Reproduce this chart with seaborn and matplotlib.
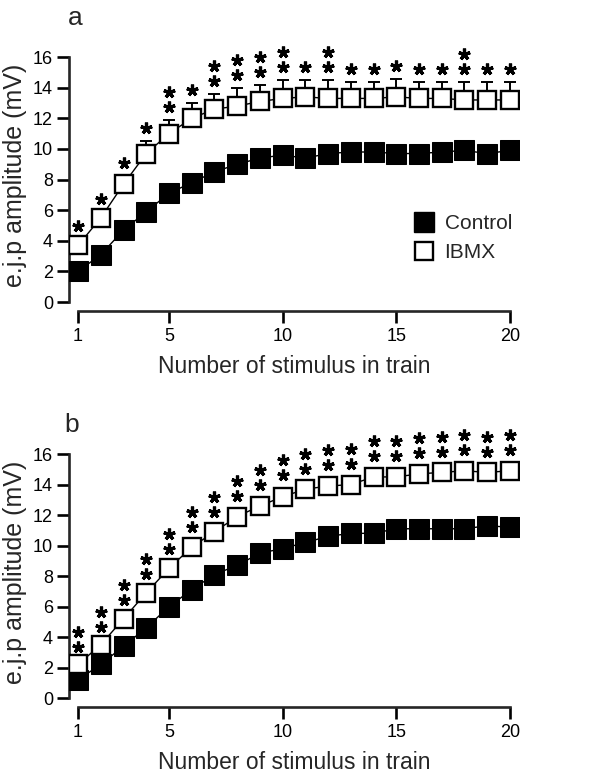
import numpy as np
import pandas as pd
import matplotlib
matplotlib.use('Agg')
import matplotlib.pyplot as plt
import matplotlib.transforms as mtransforms
from matplotlib.lines import Line2D
import seaborn as sns

# stimulus number in the train
stim = list(range(1, 21))

# panel a
ctrl_a = [2.0, 3.1, 4.7, 5.9, 7.1, 7.8, 8.5, 9.0, 9.4, 9.6,
          9.4, 9.7, 9.8, 9.8, 9.7, 9.7, 9.8, 9.9, 9.7, 9.9]
ctrl_a_err = [0.2, 0.2, 0.2, 0.2, 0.2, 0.2, 0.2, 0.3, 0.3, 0.6,
              0.3, 0.3, 0.3, 0.3, 0.3, 0.3, 0.3, 0.3, 0.3, 0.3]
ibmx_a = [3.7, 5.5, 7.7, 9.7, 11.0, 12.0, 12.6, 12.8, 13.1, 13.3,
          13.4, 13.3, 13.3, 13.3, 13.4, 13.3, 13.3, 13.2, 13.2, 13.2]
ibmx_a_err = [0.4, 0.4, 0.5, 0.8, 0.9, 1.0, 1.0, 1.2, 1.1, 1.2,
              1.1, 1.2, 1.1, 1.1, 1.2, 1.1, 1.1, 1.2, 1.2, 1.2]
stars_a = [1, 1, 1, 1, 2, 1, 2, 2, 2, 2, 1, 2, 1, 1, 1, 1, 1, 2, 1, 1]

# panel b
ctrl_b = [1.2, 2.2, 3.4, 4.6, 6.0, 7.1, 8.1, 8.7, 9.5, 9.8,
          10.2, 10.6, 10.8, 10.8, 11.1, 11.1, 11.1, 11.1, 11.3, 11.2]
ctrl_b_err = [0.2] * 20
ibmx_b = [2.2, 3.5, 5.2, 6.9, 8.5, 9.9, 10.9, 11.9, 12.6, 13.2,
          13.7, 13.9, 14.0, 14.5, 14.5, 14.7, 14.8, 14.9, 14.8, 14.9]
ibmx_b_err = [0.3, 0.3, 0.35, 0.4, 0.4, 0.45, 0.45, 0.5, 0.55, 0.55,
              0.5, 0.5, 0.5, 0.5, 0.5, 0.5, 0.5, 0.5, 0.5, 0.5]
stars_b = [2, 2, 2, 2, 2, 2, 2, 2, 2, 2, 2, 2, 2, 2, 2, 2, 2, 2, 2, 2]

sns.set_style('ticks')
plt.rcParams['font.family'] = ['Liberation Sans', 'DejaVu Sans']
plt.rcParams['axes.linewidth'] = 1.9

fig = plt.figure(figsize=(6, 7.76), dpi=100)
ax_a = fig.add_axes([69 / 600, 0.6108, 0.75, 0.3255])
ax_b = fig.add_axes([69 / 600, 0.1005, 0.75, 0.3242])


def draw_panel(ax, ctrl, ctrl_err, ibmx, ibmx_err, stars):
    df = pd.DataFrame({'stim': stim * 2,
                       'amp': ctrl + ibmx,
                       'group': ['Control'] * 20 + ['IBMX'] * 20})
    # error bars (upper for IBMX, lower for control)
    ax.errorbar(stim, ibmx, yerr=[np.zeros(20), ibmx_err], fmt='none',
                ecolor='black', elinewidth=1.4, capsize=4, capthick=1.4, zorder=2)
    ax.errorbar(stim, ctrl, yerr=[ctrl_err, np.zeros(20)], fmt='none',
                ecolor='black', elinewidth=1.4, capsize=4, capthick=1.4, zorder=2)
    sns.lineplot(data=df[df.group == 'Control'], x='stim', y='amp', ax=ax,
                 color='black', marker='s', markersize=14, markerfacecolor='black',
                 markeredgecolor='black', linewidth=1.0, zorder=3)
    sns.lineplot(data=df[df.group == 'IBMX'], x='stim', y='amp', ax=ax,
                 color='black', marker='s', markersize=13, markerfacecolor='white',
                 markeredgecolor='black', markeredgewidth=1.7, linewidth=1.0, zorder=4)

    # significance stars above the IBMX error bars
    tops = np.array(ibmx) + np.array(ibmx_err)
    stars = np.array(stars)
    for k in range(1, 3):
        sel = stars >= k
        off = mtransforms.ScaledTranslation(0, (13 + (k - 1) * 15) / 100,
                                            fig.dpi_scale_trans)
        ax.plot(np.array(stim)[sel], tops[sel], linestyle='none',
                marker=(5, 2, 0), markersize=8.5, markeredgewidth=2.3,
                color='black', transform=ax.transData + off, clip_on=False)

    ax.set_xlim(0.6, 20.4)
    ax.set_ylim(0, 16.5)
    ax.set_xticks([1, 5, 10, 15, 20])
    ax.set_yticks(range(0, 17, 2))
    sns.despine(ax=ax)
    ax.spines['bottom'].set_position(('outward', 6.5))
    ax.spines['bottom'].set_bounds(1, 20)
    ax.spines['left'].set_bounds(0, 16)
    ax.tick_params(axis='both', direction='out', length=8.5, width=1.9,
                   labelsize=13, colors='black')
    ax.tick_params(axis='x', pad=4)
    ax.tick_params(axis='y', pad=3)
    ax.set_xlabel('Number of stimulus in train', fontsize=16.5, labelpad=7)
    ax.set_ylabel('e.j.p amplitude (mV)', fontsize=18, labelpad=4)


draw_panel(ax_a, ctrl_a, ctrl_a_err, ibmx_a, ibmx_a_err, stars_a)
draw_panel(ax_b, ctrl_b, ctrl_b_err, ibmx_b, ibmx_b_err, stars_b)

handles = [Line2D([], [], linestyle='none', marker='s', markersize=14,
                  markerfacecolor='black', markeredgecolor='black'),
           Line2D([], [], linestyle='none', marker='s', markersize=13,
                  markerfacecolor='white', markeredgecolor='black', markeredgewidth=1.7)]
ax_a.legend(handles, ['Control', 'IBMX'], loc='center left',
            bbox_to_anchor=(0.742, 0.253), frameon=False, fontsize=15,
            handlelength=1.0, handletextpad=0.5, labelspacing=0.45, borderpad=0)

fig.text(75 / 600, 1 - 18 / 776, 'a', fontsize=19, ha='center', va='center')
fig.text(72 / 600, 1 - 425 / 776, 'b', fontsize=19, ha='center', va='center')

fig.savefig('out.png', dpi=100)
